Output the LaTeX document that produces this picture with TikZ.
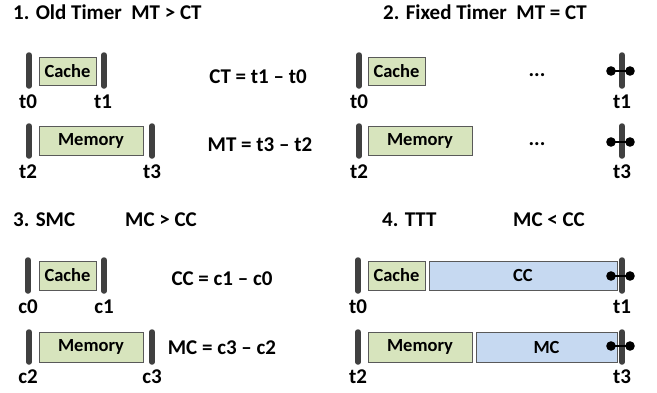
\documentclass[tikz,border=0pt]{standalone}
\usepackage{fontspec}
\setmainfont{Carlito}
\usetikzlibrary{shadows}
\definecolor{bargray}{HTML}{404040}
\definecolor{boxline}{HTML}{595959}
\definecolor{opgreen}{HTML}{D7E4BD}
\definecolor{opblue}{HTML}{C6D9F1}
\begin{document}
\begin{tikzpicture}[x=1pt,y=-1pt,
  txt/.style={font=\fontsize{21}{24}\selectfont\bfseries, inner sep=0pt},
  op/.style={draw=boxline, fill=opgreen, line width=0.8pt, inner sep=0pt,
    font=\fontsize{18.5}{22}\selectfont\bfseries,
    drop shadow={shadow xshift=1.2pt, shadow yshift=-1.2pt, opacity=0.35}},
  wait/.style={op, fill=opblue},
  bar/.style={line width=5.5pt, line cap=round, bargray},
  stop/.style={line width=2.2pt, black}]
\useasboundingbox (0,0) rectangle (657,392);
% 1. old timer
\node[txt,anchor=west] (title1) at (13,12) {1. Old Timer\ \ MT > CT};
\draw[bar] (29,55) -- (29,86);
\draw[bar] (104,55) -- (104,86);
\node[op,minimum width=57pt,minimum height=28pt] (cache1) at (67.5,71) {Cache};
\node[txt] (t0a) at (28,102) {t0};
\node[txt] (t1a) at (103,102) {t1};
\node[txt] (ct1) at (258,77) {CT = t1 – t0};
\draw[bar] (29,126) -- (29,156);
\draw[bar] (152,126) -- (152,156);
\node[op,minimum width=104pt,minimum height=29pt] (mem1) at (91,140.5) {Memory};
\node[txt] (t2a) at (28,172) {t2};
\node[txt] (t3a) at (152,172) {t3};
\node[txt] (mt1) at (260,145) {MT = t3 – t2};
% 2. fixed timer
\node[txt,anchor=west] (title2) at (383,12) {2. Fixed Timer\ \ MT = CT};
\draw[bar] (359,55) -- (359,86);
\draw[bar] (622,55) -- (622,86);
\node[op,minimum width=57pt,minimum height=28pt] (cache2) at (396.5,71) {Cache};
\node[txt,anchor=base] (dots1) at (537,76) {...};
\draw[stop] (611,71) -- (630,71);
\fill (611,71) circle (4.8pt) (630,71) circle (4.8pt);
\node[txt] (t0b) at (359,102) {t0};
\node[txt] (t1b) at (622,102) {t1};
\draw[bar] (359,126) -- (359,156);
\draw[bar] (622,126) -- (622,156);
\node[op,minimum width=104pt,minimum height=29pt] (mem2) at (420,140.5) {Memory};
\node[txt,anchor=base] (dots2) at (537,145) {...};
\draw[stop] (611,142) -- (630,142);
\fill (611,142) circle (4.8pt) (630,142) circle (4.8pt);
\node[txt] (t2b) at (359,172) {t2};
\node[txt] (t3b) at (622,172) {t3};
% 3. smc
\node[txt,anchor=west] (title3) at (13,220) {3. SMC};
\node[txt,anchor=west] (cmp3) at (125,220) {MC > CC};
\draw[bar] (28,260) -- (28,291);
\draw[bar] (104,260) -- (104,291);
\node[op,minimum width=57pt,minimum height=29pt] (cache3) at (67.5,275.5) {Cache};
\node[txt] (c0) at (28,307) {c0};
\node[txt] (c1) at (104,307) {c1};
\node[txt] (cc3) at (222,279) {CC = c1 – c0};
\draw[bar] (29,332) -- (29,362);
\draw[bar] (152,332) -- (152,362);
\node[op,minimum width=104pt,minimum height=30pt] (mem3) at (91,347) {Memory};
\node[txt] (c2) at (28,377) {c2};
\node[txt] (c3) at (152,377) {c3};
\node[txt] (mc3) at (222,348) {MC = c3 – c2};
% 4. ttt
\node[txt,anchor=west] (title4) at (382,220) {4. TTT};
\node[txt,anchor=west] (cmp4) at (513,220) {MC < CC};
\draw[bar] (358,260) -- (358,291);
\node[op,minimum width=57pt,minimum height=29pt] (cache4) at (396.5,275.5) {Cache};
\node[wait,minimum width=188pt,minimum height=29pt] (cc4) at (523,275.5) {CC};
\draw[bar] (622,260) -- (622,291);
\draw[stop] (611,276) -- (630,276);
\fill (611,276) circle (4.8pt) (630,276) circle (4.8pt);
\node[txt] (t0d) at (358,307) {t0};
\node[txt] (t1d) at (622,307) {t1};
\draw[bar] (358,332) -- (358,362);
\node[op,minimum width=104pt,minimum height=30pt] (mem4) at (420,347) {Memory};
\node[wait,minimum width=141pt,minimum height=30pt] (mc4) at (546.5,347) {MC};
\draw[bar] (622,332) -- (622,362);
\draw[stop] (611,346) -- (630,346);
\fill (611,346) circle (4.8pt) (630,346) circle (4.8pt);
\node[txt] (t2d) at (358,377) {t2};
\node[txt] (t3d) at (622,377) {t3};
\end{tikzpicture}
\end{document}
